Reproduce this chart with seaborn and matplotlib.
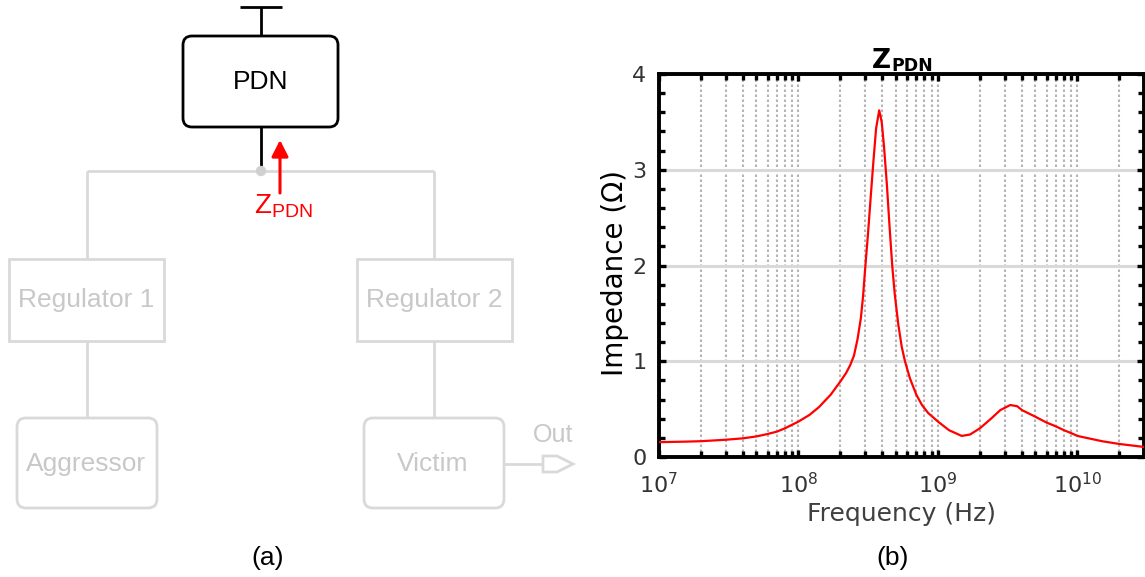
import numpy as np
import pandas as pd
import matplotlib
matplotlib.use("Agg")
import matplotlib.pyplot as plt
from matplotlib.patches import FancyBboxPatch, Polygon, Circle
from matplotlib.ticker import LogLocator, MultipleLocator, NullFormatter
import seaborn as sns

# ---- impedance profile of the power delivery network ----
freq_hz = [1.0e7, 1.5e7, 2.0e7, 3.0e7, 4.0e7, 5.0e7, 6.0e7, 7.0e7, 8.0e7,
           1.0e8, 1.2e8, 1.4e8, 1.7e8, 2.0e8, 2.2e8, 2.35e8, 2.5e8, 2.65e8,
           2.8e8, 2.9e8, 3.0e8, 3.15e8, 3.3e8, 3.45e8, 3.6e8, 3.79e8, 3.95e8,
           4.1e8, 4.3e8, 4.5e8, 4.7e8, 4.9e8, 5.2e8, 5.5e8, 5.8e8, 6.3e8,
           7.0e8, 7.7e8, 8.5e8, 1.0e9, 1.2e9, 1.48e9, 1.7e9, 2.0e9, 2.4e9,
           2.8e9, 3.3e9, 3.7e9, 4.0e9, 5.0e9, 6.0e9, 7.0e9, 8.0e9, 9.0e9,
           1.0e10, 1.5e10, 2.0e10, 3.0e10]
impedance_ohm = [0.155, 0.160, 0.165, 0.180, 0.195, 0.215, 0.240, 0.265, 0.300,
                 0.370, 0.440, 0.520, 0.650, 0.790, 0.880, 0.960, 1.060, 1.230,
                 1.450, 1.670, 1.950, 2.330, 2.730, 3.100, 3.430, 3.620, 3.500,
                 3.250, 2.850, 2.400, 2.000, 1.700, 1.380, 1.150, 1.000, 0.820,
                 0.650, 0.540, 0.460, 0.370, 0.280, 0.220, 0.235, 0.300, 0.400,
                 0.490, 0.543, 0.530, 0.490, 0.420, 0.360, 0.320, 0.280, 0.250,
                 0.220, 0.165, 0.136, 0.105]

y_ticks = [0, 1, 2, 3, 4]
x_limits = (1e7, 3e10)

df = pd.DataFrame({"Frequency (Hz)": freq_hz, "Impedance": impedance_ohm})

sns.set_theme(style="ticks")
plt.rcParams["font.family"] = ["DejaVu Sans"]
plt.rcParams["mathtext.fontset"] = "dejavusans"
plt.rcParams["mathtext.rm"] = "Liberation Sans"
plt.rcParams["mathtext.it"] = "Liberation Sans:italic"
plt.rcParams["mathtext.bf"] = "Liberation Sans:bold"

W, H = 1145, 577
fig = plt.figure(figsize=(W / 100, H / 100), dpi=100)
fig.patch.set_facecolor("white")

# ---- (a) block diagram, drawn in pixel units ----
dg = fig.add_axes([0, 0, 1, 1], zorder=0)
dg.set_xlim(0, W)
dg.set_ylim(H, 0)
dg.axis("off")

BLACK = "black"
GRAY = "#d9d9d9"
GTEXT = "#c8c8c8"
ARIAL = "Liberation Sans"
LW = 2.0

def box(x0, y0, x1, y1, color, rounded):
    style = "round,pad=0,rounding_size=9" if rounded else "square,pad=0"
    dg.add_patch(FancyBboxPatch((x0, y0), x1 - x0, y1 - y0, boxstyle=style,
                                fc="white", ec=color, lw=LW, zorder=2))

def wire(xs, ys, color):
    dg.plot(xs, ys, color=color, lw=LW, solid_capstyle="butt", zorder=1)

# supply symbol and PDN block
wire([240, 282], [7, 7], BLACK)
wire([261, 261], [7, 36], BLACK)
box(183, 36, 338, 127, BLACK, True)
dg.text(261, 82, "PDN", ha="center", va="center", fontsize=19, family=ARIAL, color=BLACK)
wire([261, 261], [127, 171], BLACK)

# distribution wiring
wire([87, 434], [171, 171], GRAY)
wire([87, 87], [171, 259], GRAY)
wire([434, 434], [171, 259], GRAY)
dg.add_patch(Circle((261, 171), 4.5, color="#d0d0d0", zorder=3))

box(9, 259, 164, 341, GRAY, False)
box(357, 259, 512, 341, GRAY, False)
dg.text(86, 300, "Regulator 1", ha="center", va="center", fontsize=19, family=ARIAL, color=GTEXT)
dg.text(434, 300, "Regulator 2", ha="center", va="center", fontsize=19, family=ARIAL, color=GTEXT)

wire([87, 87], [341, 418], GRAY)
wire([434, 434], [341, 418], GRAY)
box(17, 418, 157, 508, GRAY, True)
box(364, 418, 504, 508, GRAY, True)
dg.text(86, 464, "Aggressor", ha="center", va="center", fontsize=19, family=ARIAL, color=GTEXT)
dg.text(433, 464, "Victim", ha="center", va="center", fontsize=19, family=ARIAL, color=GTEXT)

# output port
wire([504, 543], [464, 464], GRAY)
dg.add_patch(Polygon([(543, 456), (557, 456), (573, 464), (557, 472), (543, 472)],
                     closed=True, fc="white", ec=GRAY, lw=LW, zorder=2))
dg.text(553, 435, "Out", ha="center", va="center", fontsize=18, family=ARIAL, color=GTEXT)

# looking-in impedance arrow
dg.annotate("", xy=(280, 140), xytext=(280, 193),
            arrowprops=dict(arrowstyle="-|>,head_length=0.55,head_width=0.28",
                            color="red", lw=2.2, mutation_scale=18,
                            shrinkA=0, shrinkB=0), zorder=4)
dg.text(254, 213, r"$\mathrm{Z}_{\mathrm{PDN}}$", ha="left", va="baseline",
        fontsize=20, color="red", math_fontfamily="custom")

dg.text(268, 558, "(a)", ha="center", va="center", fontsize=19, family=ARIAL, color=BLACK)
dg.text(893, 558, "(b)", ha="center", va="center", fontsize=19, family=ARIAL, color=BLACK)

# plot title: bold Z with bold subscript
dg.text(891, 68, "Z", ha="right", va="baseline", fontsize=19,
        family=["DejaVu Sans"], fontweight="bold", color=BLACK)
dg.text(891, 71, "PDN", ha="left", va="baseline", fontsize=12.5,
        family=["DejaVu Sans"], fontweight="bold", color=BLACK)

# ---- (b) impedance vs frequency ----
left, right, bottom, top = 659, 1144, 457, 74
ax = fig.add_axes([left / W, (H - bottom) / H, (right - left) / W, (bottom - top) / H], zorder=2)
ax.set_facecolor("none")

sns.lineplot(data=df, x="Frequency (Hz)", y="Impedance", ax=ax,
             color="red", lw=1.6, zorder=5)

ax.set_xscale("log")
ax.set_xlim(*x_limits)
ax.set_ylim(y_ticks[0], y_ticks[-1])
ax.set_yticks(y_ticks)
ax.yaxis.set_minor_locator(MultipleLocator(0.2))
ax.xaxis.set_major_locator(LogLocator(base=10, numticks=20))
ax.xaxis.set_minor_locator(LogLocator(base=10, subs=np.arange(2, 10), numticks=100))
ax.xaxis.set_minor_formatter(NullFormatter())

ax.grid(True, which="both", axis="x", ls=(0, (1.2, 1.2)), color="#b5b5b5", lw=1.5, zorder=0)
ax.grid(True, which="major", axis="y", ls="-", color="#d9d9d9", lw=2.2, zorder=0)
ax.set_axisbelow(True)

for s in ax.spines.values():
    s.set_visible(True)
    s.set_linewidth(2.8)
    s.set_color("black")

ax.tick_params(which="both", direction="in", top=True, right=True,
               color="black", labelcolor="#333333", labelsize=16)
ax.tick_params(which="major", length=5, width=2.4)
ax.tick_params(which="minor", length=4, width=2.4)
ax.tick_params(axis="x", which="major", pad=11)
ax.tick_params(axis="y", which="major", pad=9)

ax.set_xlabel("Frequency (Hz)", fontsize=18, color="#404040", labelpad=3)
ax.set_ylabel("Impedance (\u03a9)", fontsize=20, color="black", labelpad=4)
ax.yaxis.set_label_coords(-0.062, 0.48)

fig.savefig("out.png", dpi=100, facecolor="white")
